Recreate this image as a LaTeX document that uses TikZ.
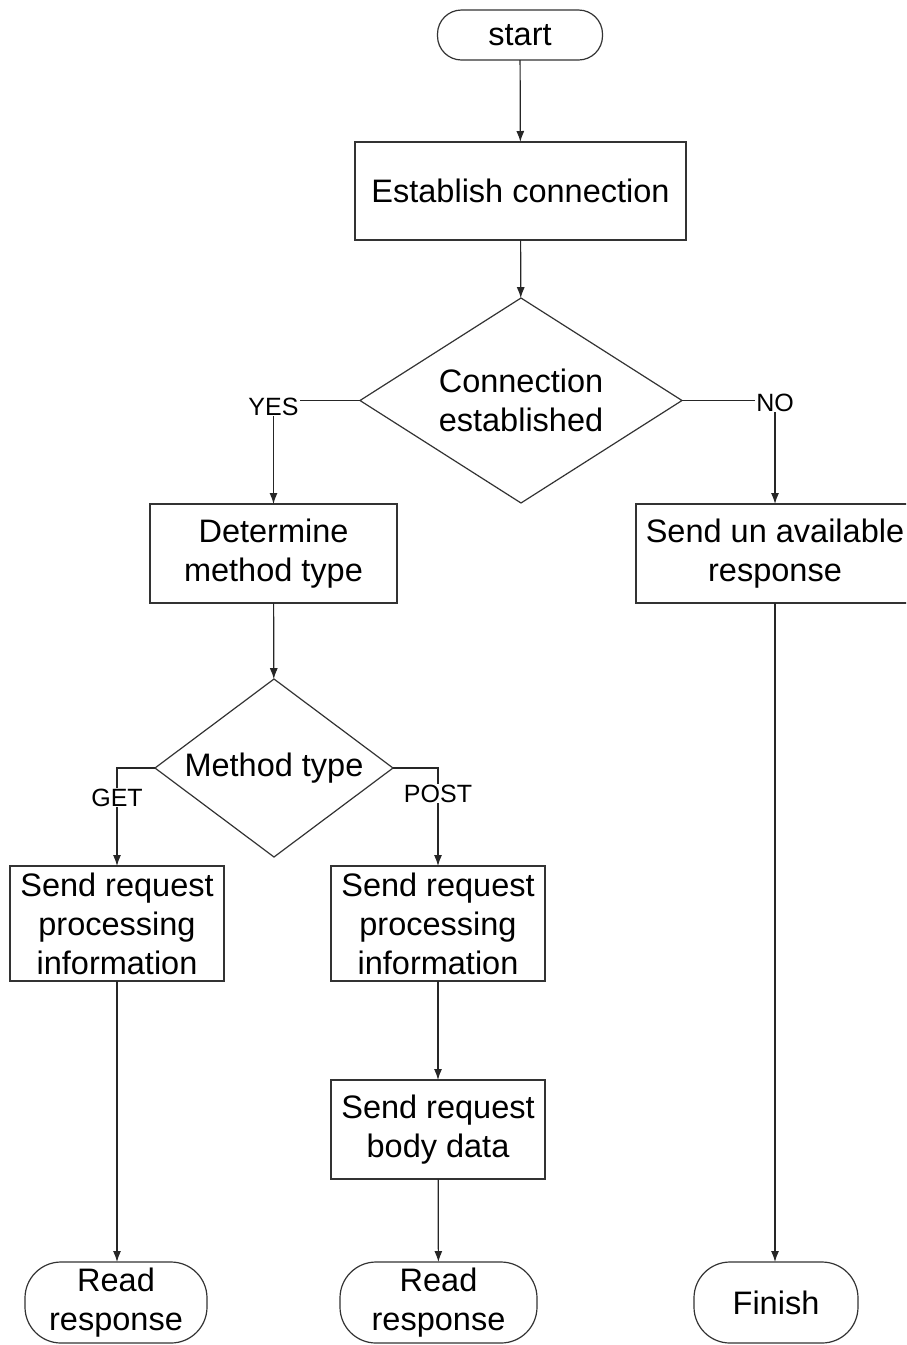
\documentclass[tikz,border=0pt]{standalone}
\usepackage{fontspec}
\setmainfont{Liberation Sans}
\usetikzlibrary{shapes.geometric,arrows.meta}
\begin{document}
\begin{tikzpicture}[x=1pt,y=-1pt,
  every node/.style={font=\fontsize{32.5}{39}\selectfont, inner sep=0pt, outer sep=0pt, align=center, text=black},
  box/.style={draw=black!80, line width=1.2pt, rectangle},
  term/.style={draw=black!80, line width=1.2pt, rectangle, rounded corners=#1},
  dec/.style={draw=black!80, line width=1.2pt, diamond},
  lbl/.style={font=\fontsize{25}{30}\selectfont, fill=white, inner sep=1pt},
  arr/.style={draw=black!85, line width=1.2pt, -{Latex[length=11pt,width=8pt]}},
  ln/.style={draw=black!85, line width=1.2pt}
]
\useasboundingbox (0,0) rectangle (906,1345);
\fill[white] (0,0) rectangle (906,1345);
\clip (0,0) rectangle (906,1345);

\node[term=24pt, minimum width=165, minimum height=50] (start) at (520,35) {start};
\node[box, minimum width=331, minimum height=98] (est) at (520.5,191) {Establish connection};
\node[dec, minimum width=322, minimum height=205, aspect=1.57] (d1) at (521,400.5) {Connection\\established};
\node[box, minimum width=247, minimum height=99] (det) at (273.5,553.5) {Determine\\method type};
\node[box, minimum width=278, minimum height=99] (una) at (775,553.5) {Send un available\\response};
\node[dec, minimum width=238, minimum height=178, aspect=1.34] (d2) at (274,768) {Method type};
\node[box, minimum width=214, minimum height=115] (get) at (117,923.5) {Send request\\processing\\information};
\node[box, minimum width=214, minimum height=115] (post) at (438,923.5) {Send request\\processing\\information};
\node[box, minimum width=214, minimum height=99] (body) at (438,1129.5) {Send request\\body data};
\node[term=36pt, minimum width=182, minimum height=81] (r1) at (116,1302.5) {Read\\response};
\node[term=36pt, minimum width=197, minimum height=81] (r2) at (438.5,1302.5) {Read\\response};
\node[term=36pt, minimum width=164, minimum height=81] (fin) at (776,1302.5) {Finish};

\draw[arr] (start) -- (est);
\draw[arr] (est) -- (d1);
\draw[arr] (d1.west) -| node[lbl, pos=0.5, yshift=-6pt] (yes) {YES} (det.north);
\draw[arr] (d1.east) -| node[lbl, pos=0.5, yshift=-2pt] (no) {NO} (una.north);
\draw[arr] (det) -- (d2);
\draw[arr] (d2.west) -| node[lbl, pos=0.65] (getl) {GET} (get.north);
\draw[arr] (d2.east) -| node[lbl, pos=0.63] (postl) {POST} (post.north);
\draw[arr] (post) -- (body);
\draw[arr] (body) -- (r2);
\draw[arr] (get.south) -- (get.south |- r1.north);
\draw[arr] (una.south) -- (una.south |- fin.north);
\end{tikzpicture}
\end{document}
